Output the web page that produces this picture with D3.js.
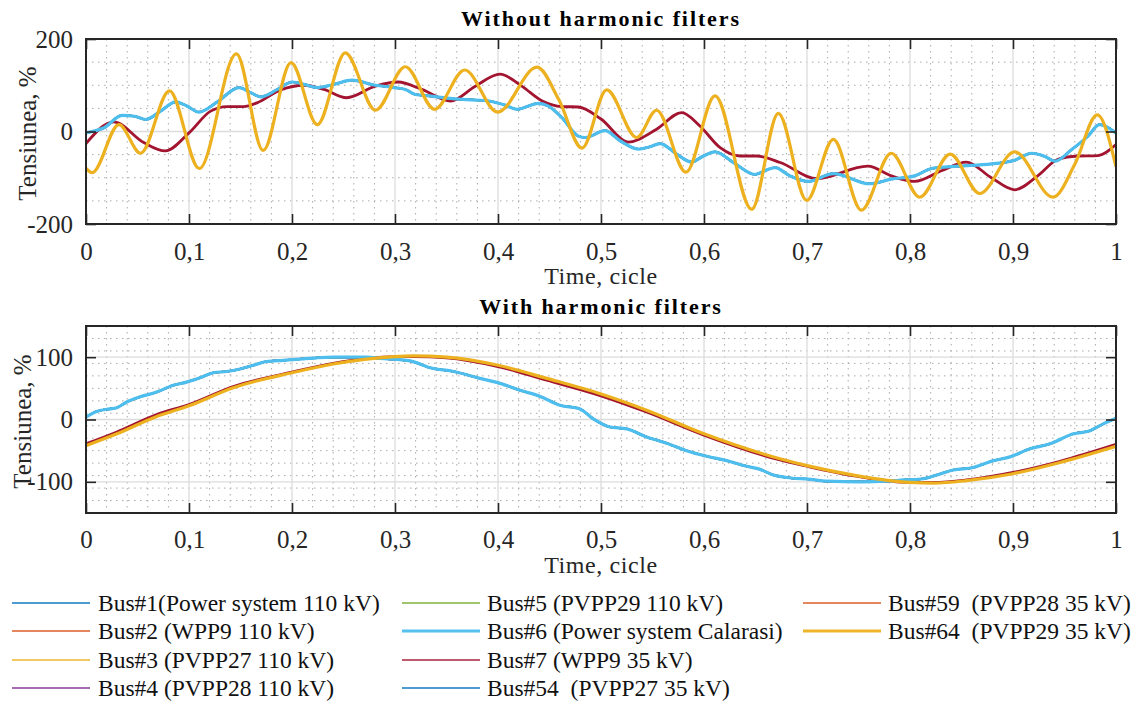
<!DOCTYPE html>
<html>
<head>
<meta charset="utf-8">
<script src="https://cdn.jsdelivr.net/npm/d3@7"></script>
<style>
  html, body { margin: 0; padding: 0; background: #fff; }
  svg { display: block; font-family: "Liberation Serif", "Times New Roman", serif; }
</style>
</head>
<body>
<svg id="chart" width="1142" height="702"></svg>
<script>
// ---- Axis ticks and labels ----
const timeTicks = [0, 0.1, 0.2, 0.3, 0.4, 0.5, 0.6, 0.7, 0.8, 0.9, 1];
const topVoltTicks = [-200, 0, 200];
const bottomVoltTicks = [-100, 0, 100];
const titles = ["Without harmonic filters", "With harmonic filters"];
const xLabel = "Time, cicle";
const yLabel = "Tensiunea, %";

// ---- Legend ----
const busNames = [
  "Bus#1(Power system 110 kV)", "Bus#2 (WPP9 110 kV)", "Bus#3 (PVPP27 110 kV)",
  "Bus#4 (PVPP28 110 kV)", "Bus#5 (PVPP29 110 kV)", "Bus#6 (Power system Calarasi)",
  "Bus#7 (WPP9 35 kV)", "Bus#54  (PVPP27 35 kV)", "Bus#59  (PVPP28 35 kV)",
  "Bus#64  (PVPP29 35 kV)"
];
const busColors = ["#0072BD", "#D95319", "#EDB120", "#7E2F8E", "#77AC30",
                   "#4DBEEE", "#A2142F", "#0072BD", "#D95319", "#EDB120"];

// ---- Without harmonic filters ----
// 110 kV buses together with Bus#6 (they overlap almost exactly)
const gridBusNoFilterT = [0, 0.0175, 0.035, 0.047, 0.058, 0.0725, 0.087, 0.098, 0.1097, 0.1275,
  0.1485, 0.160, 0.1696, 0.1858, 0.2003, 0.2117, 0.2246, 0.241, 0.2582, 0.281, 0.299, 0.310,
  0.320, 0.333, 0.356, 0.378, 0.391, 0.407, 0.4185, 0.4395, 0.449, 0.462, 0.478, 0.4848,
  0.5039, 0.5185, 0.5362, 0.5476, 0.5573, 0.5735, 0.588, 0.5994, 0.6107, 0.6285, 0.6495,
  0.661, 0.669, 0.6835, 0.7013, 0.7256, 0.7608, 0.7818, 0.8045, 0.821, 0.8466, 0.8791,
  0.9016, 0.918, 0.931, 0.9408, 0.957, 0.9728, 0.984, 1.0];
const gridBusNoFilterV = [-3, 8, 35, 33, 26, 44, 64, 55, 42, 64,
  95, 84, 75, 91, 107, 102, 95, 102, 111, 100, 95, 91,
  80, 77, 71, 68, 66, 57, 48, 61, 55, 30, -10, -13,
  2, -20, -38, -33, -26, -49, -66, -53, -44, -67, -93,
  -83, -78, -96, -108, -91, -113, -103, -96, -80, -75, -70,
  -62, -47, -54, -64, -39, -10, 15, -3];

const bus7NoFilterT = [0, 0.027, 0.056, 0.077, 0.100, 0.121, 0.137, 0.153, 0.166, 0.189,
  0.2117, 0.231, 0.253, 0.281, 0.303, 0.326, 0.354, 0.378, 0.402, 0.423, 0.443, 0.462,
  0.478, 0.500, 0.5265, 0.554, 0.5783, 0.596, 0.6157, 0.635, 0.651, 0.674, 0.7094, 0.759,
  0.782, 0.8045, 0.8305, 0.8547, 0.879, 0.9016, 0.924, 0.9436, 0.963, 0.9825, 1.0];
const bus7NoFilterV = [-26, 21, -24, -42, -3, 44, 54, 54, 62, 90,
  100, 91, 73, 98, 107, 91, 66, 98, 124, 98, 66, 54,
  53, 27, -23, 5, 41, 12, -35, -53, -53, -67, -102, -75,
  -96, -108, -85, -66, -100, -126, -96, -60, -53, -52, -28];

const bus64NoFilterT = [0, 0.006, 0.032, 0.053, 0.081, 0.110, 0.146, 0.172, 0.199, 0.2246,
  0.2517, 0.281, 0.310, 0.3385, 0.3676, 0.3997, 0.4379, 0.459, 0.4816, 0.5055, 0.5346,
  0.554, 0.5825, 0.6107, 0.6463, 0.6722, 0.6997, 0.7256, 0.7527, 0.7818, 0.8094, 0.8391,
  0.8676, 0.9016, 0.9388, 0.960, 0.9818, 1.0];
const bus64NoFilterV = [-80, -89, 15, -47, 88, -80, 168, -41, 149, 15,
  170, 46, 140, 48, 133, 42, 139, 69, -36, 90, -13,
  46, -88, 77, -168, 39, -149, -17, -170, -47, -142, -49,
  -134, -44, -142, -71, 36, -76];

// ---- With harmonic filters ----
const gridBusFilterT = [0, 0.0103, 0.023, 0.030, 0.0395, 0.052, 0.0686, 0.0848, 0.0977, 0.1107,
  0.1236, 0.1366, 0.1495, 0.1625, 0.1754, 0.1916, 0.2078, 0.224, 0.240, 0.2725, 0.2854,
  0.3146, 0.334, 0.357, 0.3825, 0.402, 0.4213, 0.441, 0.460, 0.4796, 0.4925, 0.5087,
  0.5249, 0.5443, 0.5638, 0.583, 0.6026, 0.622, 0.6414, 0.6544, 0.6673, 0.6803, 0.703,
  0.7191, 0.7515, 0.7774, 0.7935, 0.813, 0.826, 0.842, 0.8615, 0.881, 0.8971, 0.9165,
  0.936, 0.9586, 0.9748, 0.9877, 1.0];
const gridBusFilterV = [4, 13, 17, 19, 28, 36, 44, 55, 60, 67,
  75, 77, 81, 87, 93, 95, 97, 99, 100, 100, 98,
  94, 83, 77, 66, 58, 47, 37, 23, 17, 1, -12,
  -15, -28, -38, -50, -59, -66, -75, -80, -89, -93, -96,
  -99, -100, -99, -97, -95, -89, -81, -77, -66, -60, -47,
  -39, -23, -18, -7, 2];

const lvBusFilterT = [0, 0.030, 0.0686, 0.1, 0.143, 0.2, 0.24, 0.2725, 0.3, 0.318, 0.35, 0.4,
  0.4473, 0.5, 0.5443, 0.6, 0.6738, 0.7, 0.748, 0.8, 0.823, 0.855, 0.9, 0.9457, 1.0];
const bus7FilterV = [-39, -20, 8, 24, 53, 76, 90, 98, 101, 101, 99, 85,
  63, 38, 12, -25, -65, -75, -91, -101, -101, -97, -85, -67, -40];
const bus64FilterV = [-42, -23, 5, 22, 51, 75, 89, 97, 101, 102, 100, 87,
  66, 41, 15, -23, -63, -74, -90, -101, -102, -98, -87, -69, -43];

const zipPts = (t, v) => t.map((d, i) => [d, v[i]]);
const panels = [
  {
    title: titles[0], top: 39, bottom: 224, yDomain: [-200, 200], yTicks: topVoltTicks,
    yMinorStep: 50, titleY: 26, tickLabelPad: 18, xLabelY: 284, yLabelX: 27,
    traces: {
      grid: zipPts(gridBusNoFilterT, gridBusNoFilterV),
      bus7: zipPts(bus7NoFilterT, bus7NoFilterV),
      bus64: zipPts(bus64NoFilterT, bus64NoFilterV)
    }
  },
  {
    title: titles[1], top: 326, bottom: 513, yDomain: [-150, 150], yTicks: bottomVoltTicks,
    yMinorStep: 20, titleY: 314, tickLabelPad: 17, xLabelY: 573, yLabelX: 22,
    traces: {
      grid: zipPts(gridBusFilterT, gridBusFilterV),
      bus7: zipPts(lvBusFilterT, bus7FilterV),
      bus64: zipPts(lvBusFilterT, bus64FilterV)
    }
  }
];
// bus index -> trace key
const busTrace = ["grid", "grid", "grid", "grid", "grid", "grid", "bus7", "grid", "grid", "bus64"];
// drawing order: thin grid-side buses first, then the thick highlighted ones
const drawOrder = [0, 1, 2, 3, 4, 7, 8, 6, 5, 9];
const lineWidth = i => (i === 5 || i === 9) ? 3.2 : (i === 6 ? 2.8 : 2);

const svg = d3.select("#chart");
const left = 86, right = 1116;
const x = d3.scaleLinear().domain([0, 1]).range([left, right]);
const fmt = d => String(d).replace(".", ",");
const axisColor = "#262626";

panels.forEach((p, pi) => {
  const y = d3.scaleLinear().domain(p.yDomain).range([p.bottom, p.top]);
  const g = svg.append("g");
  const clipId = "clip" + pi;
  svg.append("clipPath").attr("id", clipId).append("rect")
    .attr("x", left).attr("y", p.top).attr("width", right - left).attr("height", p.bottom - p.top);

  // minor grid (dotted)
  const minorX = d3.range(0, 1.0001, 0.02).map(v => +v.toFixed(2)).filter(v => Math.abs(v * 10 - Math.round(v * 10)) > 1e-6);
  const minorY = d3.range(p.yDomain[0], p.yDomain[1] + 0.001, p.yMinorStep).filter(v => !p.yTicks.includes(v) && v > p.yDomain[0] && v < p.yDomain[1]);
  g.append("g").selectAll("line").data(minorX).join("line")
    .attr("x1", d => x(d)).attr("x2", d => x(d)).attr("y1", p.top).attr("y2", p.bottom)
    .attr("stroke", "#aaaaaa").attr("stroke-width", 1).attr("stroke-dasharray", "1.5,4.5");
  g.append("g").selectAll("line").data(minorY).join("line")
    .attr("x1", left).attr("x2", right).attr("y1", d => y(d)).attr("y2", d => y(d))
    .attr("stroke", "#aaaaaa").attr("stroke-width", 1).attr("stroke-dasharray", "1.5,4.5");

  // major grid
  g.append("g").selectAll("line").data(timeTicks.slice(1, -1)).join("line")
    .attr("x1", d => x(d)).attr("x2", d => x(d)).attr("y1", p.top).attr("y2", p.bottom)
    .attr("stroke", "#dcdcdc").attr("stroke-width", 1.3);
  g.append("g").selectAll("line").data(p.yTicks.filter(v => v > p.yDomain[0] && v < p.yDomain[1])).join("line")
    .attr("x1", left).attr("x2", right).attr("y1", d => y(d)).attr("y2", d => y(d))
    .attr("stroke", "#dcdcdc").attr("stroke-width", 1.3);

  // traces
  const line = d3.line().x(d => x(d[0])).y(d => y(d[1])).curve(d3.curveMonotoneX);
  const plot = g.append("g").attr("clip-path", `url(#${clipId})`);
  drawOrder.forEach(i => {
    plot.append("path")
      .datum(p.traces[busTrace[i]])
      .attr("d", line)
      .attr("fill", "none")
      .attr("stroke", busColors[i])
      .attr("stroke-width", lineWidth(i))
      .attr("stroke-linejoin", "round");
  });

  // axes with inward ticks (MATLAB-style box)
  const styleAxis = sel => {
    sel.select(".domain").remove();
    sel.selectAll(".tick line").attr("stroke", axisColor).attr("stroke-width", 1.6);
    sel.selectAll("text").attr("fill", "#262626").style("font-size", "25px")
      .style("font-family", "'Liberation Serif', serif");
  };
  g.append("g").attr("transform", `translate(0,${p.bottom})`)
    .call(d3.axisBottom(x).tickValues(timeTicks).tickFormat(fmt).tickSizeInner(-10).tickSizeOuter(0).tickPadding(p.tickLabelPad))
    .call(styleAxis);
  g.append("g").attr("transform", `translate(0,${p.top})`)
    .call(d3.axisTop(x).tickValues(timeTicks).tickFormat("").tickSizeInner(-10).tickSizeOuter(0))
    .call(styleAxis);
  g.append("g").attr("transform", `translate(${left},0)`)
    .call(d3.axisLeft(y).tickValues(p.yTicks).tickFormat(d => d).tickSizeInner(-10).tickSizeOuter(0).tickPadding(13))
    .call(styleAxis);
  g.append("g").attr("transform", `translate(${right},0)`)
    .call(d3.axisRight(y).tickValues(p.yTicks).tickFormat("").tickSizeInner(-10).tickSizeOuter(0))
    .call(styleAxis);

  // box
  g.append("rect").attr("x", left).attr("y", p.top).attr("width", right - left).attr("height", p.bottom - p.top)
    .attr("fill", "none").attr("stroke", axisColor).attr("stroke-width", 2);

  // titles and axis labels
  g.append("text").attr("x", 601).attr("y", p.titleY).attr("text-anchor", "middle")
    .attr("fill", "#000").style("font-size", "22px").style("font-weight", "bold")
    .style("letter-spacing", "1.9px").text(p.title);
  g.append("text").attr("x", 601).attr("y", p.xLabelY).attr("text-anchor", "middle")
    .attr("fill", "#262626").style("font-size", "24px").style("letter-spacing", "0.6px").text(xLabel);
  g.append("text").attr("transform", `translate(${p.yLabelX},${(p.top + p.bottom) / 2 + 2}) rotate(-90)`)
    .attr("text-anchor", "middle").attr("dy", "0.35em")
    .attr("fill", "#262626").style("font-size", "25px").text(yLabel);
});

// legend: column-major, 4 rows per column
const legendCols = [{ lx: 12, tx: 98 }, { lx: 402, tx: 487 }, { lx: 803, tx: 888 }];
const legendRows = [603, 631, 660, 688];
const legend = svg.append("g");
busNames.forEach((name, i) => {
  const c = legendCols[Math.floor(i / 4)], r = legendRows[i % 4];
  const thick = i === 5 || i === 9;
  legend.append("line").attr("x1", c.lx).attr("x2", c.lx + 78).attr("y1", r).attr("y2", r)
    .attr("stroke", busColors[i]).attr("stroke-width", thick ? 3 : 2)
    .attr("stroke-opacity", thick ? 0.95 : 0.7);
  legend.append("text").attr("x", c.tx).attr("y", r + 8)
    .attr("fill", "#111").style("font-size", "23.5px").style("white-space", "pre").text(name);
});
</script>
</body>
</html>
